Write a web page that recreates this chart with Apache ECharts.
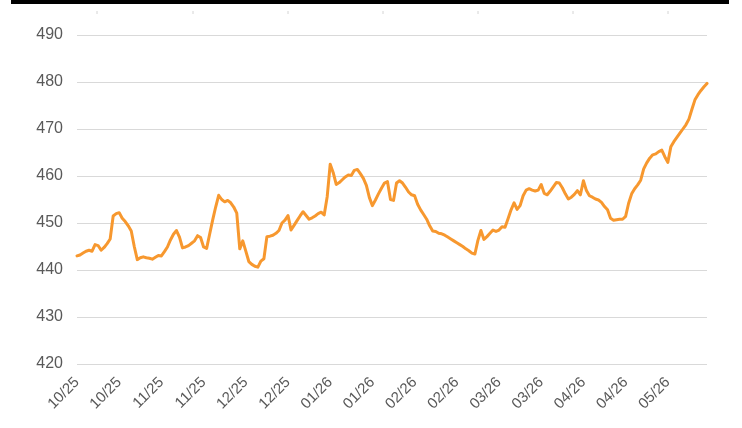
<!DOCTYPE html>
<html>
<head>
<meta charset="utf-8">
<script src="https://cdn.jsdelivr.net/npm/echarts@6/dist/echarts.min.js"></script>
<style>
  html, body { margin: 0; padding: 0; background: #ffffff; }
  #chart { width: 742px; height: 428px; }
</style>
</head>
<body>
<div id="chart"></div>
<script>
// Month labels shown along the bottom axis, one every 14 observations
const tickLabels = ['10/25', '10/25', '11/25', '11/25', '12/25', '12/25', '01/26', '01/26',
  '02/26', '02/26', '03/26', '03/26', '04/26', '04/26', '05/26'];
const pointsPerLabel = 14;

// Y axis range
const yMin = 420;
const yMax = 490;
const yStep = 10;

// Price series, one value per observation
const prices = [
  443.0, 443.2, 443.6, 444.0, 444.2, 444.0, 445.4, 445.2, 444.2, 444.8,
  445.6, 446.6, 451.5, 452.0, 452.2, 451.0, 450.3, 449.4, 448.3, 445.0,
  442.2, 442.6, 442.8, 442.6, 442.5, 442.3, 442.7, 443.1, 443.0, 443.9,
  444.9, 446.4, 447.6, 448.4, 447.0, 444.7, 444.9, 445.2, 445.7, 446.2,
  447.3, 446.9, 444.9, 444.6, 447.6, 450.6, 453.4, 455.9, 455.0, 454.5,
  454.8, 454.3, 453.4, 452.1, 444.5, 446.2, 444.0, 441.8, 441.2, 440.8,
  440.6, 441.9, 442.4, 447.1, 447.2, 447.4, 447.8, 448.4, 450.0, 450.6,
  451.6, 448.5, 449.5, 450.5, 451.5, 452.4, 451.6, 450.8, 451.1, 451.5,
  452.0, 452.3, 451.7, 455.6, 462.5, 460.7, 458.2, 458.6, 459.2, 459.8,
  460.2, 460.1, 461.2, 461.4, 460.5, 459.5, 458.0, 455.4, 453.7, 454.9,
  456.2, 457.4, 458.5, 458.8, 455.0, 454.8, 458.5, 459.0, 458.5, 457.6,
  456.6, 456.0, 455.8, 454.0, 452.8, 451.8, 450.8, 449.4, 448.3, 448.2,
  447.8, 447.7, 447.4, 447.0, 446.6, 446.2, 445.8, 445.4, 445.0, 444.5,
  444.1, 443.6, 443.4, 446.3, 448.4, 446.5, 447.1, 447.8, 448.5, 448.2,
  448.5, 449.2, 449.1, 450.9, 452.8, 454.3, 452.9, 453.7, 455.8, 457.0,
  457.3, 457.0, 456.8, 457.0, 458.2, 456.3, 456.0, 456.8, 457.7, 458.6,
  458.5, 457.5, 456.2, 455.1, 455.5, 456.1, 456.9, 456.0, 459.0, 456.9,
  455.8, 455.5, 455.1, 454.9, 454.4, 453.5, 452.8, 451.0, 450.6, 450.7,
  450.8, 450.8, 451.4, 454.2, 456.2, 457.3, 458.1, 459.1, 461.5, 462.8,
  463.8, 464.5, 464.7, 465.2, 465.5, 464.1, 462.9, 466.2, 467.3, 468.2,
  469.1, 470.0, 470.9, 472.1, 474.2, 476.2, 477.3, 478.2, 479.0, 479.7
];

// Category for every observation: the month label of its block
const categories = prices.map((_, i) => tickLabels[Math.floor(i / pointsPerLabel)]);

const chart = echarts.init(document.getElementById('chart'), null, { renderer: 'canvas' });

// Faint marks along the top edge under the header bar
const topMarks = [97, 193, 288, 383, 478, 573, 668].map(x => ({
  type: 'line',
  shape: { x1: x, y1: 11, x2: x, y2: 14 },
  style: { stroke: '#d4d4d4', lineWidth: 1 }
}));

chart.setOption({
  animation: false,
  backgroundColor: '#ffffff',
  graphic: [
    { type: 'rect', shape: { x: 11, y: 0, width: 718, height: 4 }, style: { fill: '#000000' } },
    ...topMarks
  ],
  grid: { left: 77, right: 35, top: 35, bottom: 64 },
  xAxis: {
    type: 'category',
    data: categories,
    boundaryGap: false,
    axisLine: { show: false },
    axisTick: { show: false },
    splitLine: { show: false },
    axisLabel: {
      interval: pointsPerLabel - 1,
      rotate: 45,
      margin: 16,
      color: '#595959',
      fontFamily: 'Liberation Sans, Arial, sans-serif',
      fontSize: 15
    }
  },
  yAxis: {
    type: 'value',
    min: yMin,
    max: yMax,
    interval: yStep,
    axisLine: { show: false },
    axisTick: { show: false },
    splitLine: { lineStyle: { color: '#d9d9d9', width: 1 } },
    axisLabel: {
      margin: 14,
      color: '#595959',
      fontFamily: 'Liberation Sans, Arial, sans-serif',
      fontSize: 16
    }
  },
  series: [{
    type: 'line',
    data: prices,
    showSymbol: false,
    smooth: false,
    lineStyle: { color: '#f7982f', width: 3, join: 'round', cap: 'round' }
  }]
});
</script>
</body>
</html>
